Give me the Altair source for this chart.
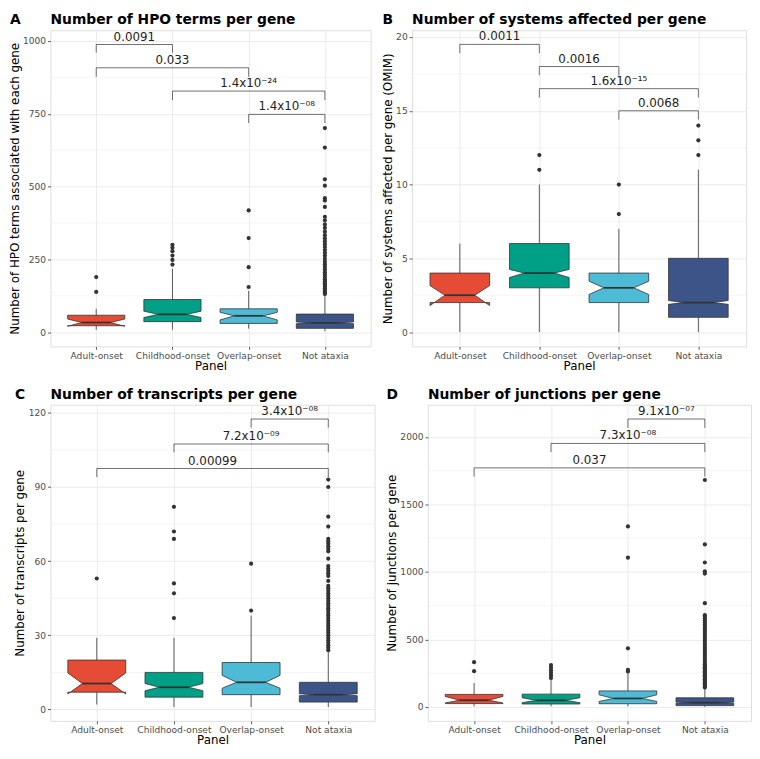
import json
import altair as alt
import pandas as pd

FONT = "DejaVu Sans"
CATS = ["Adult-onset", "Childhood-onset", "Overlap-onset", "Not ataxia"]
COLORS = ["#E64B35", "#00A087", "#4DBBD5", "#3C5488"]

# ---------------- Panel A: HPO terms ----------------
A_WLO = [8, 8, 12, 3]
A_Q1 = [22, 36, 30, 13]
A_NLO = [20, 50, 42, 29]
A_MED = [33, 61, 56, 32]
A_NHI = [45, 72, 68, 35]
A_Q3 = [58, 112, 80, 62]
A_WHI = [80, 218, 142, 127]
A_OUT_ADULT = [138, 189]
A_OUT_CHILD = [232, 248, 263, 278, 290, 300]
A_OUT_OVERLAP = [155, 223, 323, 418]
A_OUT_NOT = [131, 135, 140, 145, 150, 156, 162, 168, 175, 182, 190, 198, 206,
             215, 224, 233, 242, 252, 262, 272, 282, 292, 302, 312, 322, 333,
             345, 358, 370, 384, 396, 430, 452, 460, 503, 525, 634, 701]
A_BR_XA = [1, 1, 2, 3]
A_BR_XB = [2, 3, 4, 4]
A_BR_Y = [988, 908, 828, 748]
A_BR_TICK = [960, 877, 797, 718]
A_BR_LABEL = ["0.0091", "0.033", "1.4x10⁻²⁴", "1.4x10⁻⁰⁸"]

# ---------------- Panel B: systems affected ----------------
B_WLO = [0, 0, 0, 0]
B_Q1 = [2, 3, 2, 1]
B_NLO = [1.8, 3.7, 2.55, 1.88]
B_MED = [2.5, 4, 3, 2]
B_NHI = [3.15, 4.25, 3.45, 2.14]
B_Q3 = [4, 6, 4, 5]
B_WHI = [6, 10, 7, 11]
B_OUT_ADULT = []
B_OUT_CHILD = [11, 12]
B_OUT_OVERLAP = [8, 10]
B_OUT_NOT = [12, 13, 14]
B_BR_XA = [1, 2, 2, 3]
B_BR_XB = [2, 3, 4, 4]
B_BR_Y = [19.5, 18.0, 16.5, 15.0]
B_BR_TICK = [18.9, 17.4, 15.9, 14.4]
B_BR_LABEL = ["0.0011", "0.0016", "1.6x10⁻¹⁵", "0.0068"]

# ---------------- Panel C: transcripts ----------------
C_WLO = [2, 1, 1, 1]
C_Q1 = [7, 5, 6, 3]
C_NLO = [6.3, 7.6, 8.6, 5.6]
C_MED = [10.5, 9, 11, 6]
C_NHI = [14.8, 10.5, 13.8, 6.4]
C_Q3 = [20, 15, 19, 11]
C_WHI = [29, 29, 38, 23.5]
C_OUT_ADULT = [53]
C_OUT_CHILD = [37, 47, 51, 69, 72, 82]
C_OUT_OVERLAP = [40, 59]
C_OUT_NOT = [24, 25, 26, 27, 28, 29, 30, 31, 32, 33, 34, 35, 36, 37, 38, 39,
             40, 41, 42, 43, 44, 45, 46, 47, 48, 49, 50, 52, 54, 55, 56, 57,
             58, 61, 64, 65, 66, 67, 68, 69, 74, 78, 90, 93]
C_BR_XA = [3, 2, 1]
C_BR_XB = [4, 4, 4]
C_BR_Y = [117.5, 107.4, 97.5]
C_BR_TICK = [114, 104, 94]
C_BR_LABEL = ["3.4x10⁻⁰⁸", "7.2x10⁻⁰⁹", "0.00099"]

# ---------------- Panel D: junctions ----------------
D_WLO = [5, 5, 5, 0]
D_Q1 = [25, 22, 24, 10]
D_NLO = [30, 32, 41, 28]
D_MED = [50, 49, 63, 32]
D_NHI = [78, 68, 90, 36]
D_Q3 = [93, 95, 119, 68]
D_WHI = [177, 199, 245, 140]
D_OUT_ADULT = [265, 332]
D_OUT_CHILD = [214, 233, 252, 272, 291, 311]
D_OUT_OVERLAP = [262, 275, 434, 1106, 1337]
D_OUT_NOT = [145, 155, 165, 175, 185, 195, 205, 215, 225, 235, 245, 255, 265,
             275, 285, 295, 305, 315, 325, 340, 355, 370, 385, 400, 415, 430,
             445, 460, 475, 490, 505, 520, 535, 550, 565, 580, 595, 610, 625,
             640, 655, 670, 680, 769, 988, 1005, 1070, 1204, 1681]
D_BR_XA = [3, 2, 1]
D_BR_XB = [4, 4, 4]
D_BR_Y = [2133, 1952, 1771]
D_BR_TICK = [2067, 1887, 1706]
D_BR_LABEL = ["9.1x10⁻⁰⁷", "7.3x10⁻⁰⁸", "0.037"]

# styles
BOX_HALF = 0.375
NOTCH_HALF = 0.1875
DARK = "#333333"
PLOT_H = 320
# polygon walk of a notched box (ggplot order): (stat, side, half-width kind)
WALK = [("q3", -1, "b"), ("nhi", -1, "b"), ("med", -1, "n"), ("nlo", -1, "b"),
        ("q1", -1, "b"), ("q1", 1, "b"), ("nlo", 1, "b"), ("med", 1, "n"),
        ("nhi", 1, "b"), ("q3", 1, "b"), ("q3", -1, "b")]


def stats_df(wlo, q1, nlo, med, nhi, q3, whi):
    return pd.DataFrame({"cat": CATS, "pos": list(range(1, len(CATS) + 1)),
                         "wlo": wlo, "q1": q1, "nlo": nlo, "med": med,
                         "nhi": nhi, "q3": q3, "whi": whi})


def box_df(st):
    rows = []
    for _, r in st.iterrows():
        for o, (k, side, kind) in enumerate(WALK):
            h = BOX_HALF if kind == "b" else NOTCH_HALF
            rows.append({"cat": r["cat"], "o": o, "bx": r["pos"] + side * h, "by": r[k]})
    return pd.DataFrame(rows)


def out_df(outs):
    rows = []
    for i, (c, vals) in enumerate(zip(CATS, outs)):
        for v in vals:
            rows.append({"cat": c, "pos": i + 1, "v": v})
    return pd.DataFrame(rows, columns=["cat", "pos", "v"])


def br_df(xa, xb, y, tick, label):
    return pd.DataFrame({"xa": xa, "xb": xb, "y": y, "tick": tick, "label": label})


def panel(letter, title, ytitle, st, outs, br, ydom, yticks, yminor, width, ext, lx):
    xs = alt.Scale(domain=[0.4, 4.6], nice=False, zero=False)
    ys = alt.Scale(domain=ydom, nice=False, zero=False)
    label_expr = json.dumps(CATS) + "[datum.value - 1]"
    common = dict(grid=True, gridColor="#EBEBEB", gridWidth=1, domain=False,
                  ticks=True, tickColor=DARK, tickSize=3, tickWidth=0.8,
                  labelFont=FONT, labelFontSize=9.2, labelColor="#4D4D4D",
                  labelPadding=2, titleFont=FONT, titleFontSize=12,
                  titleFontWeight="normal", titleColor="#000000")
    xax = alt.Axis(values=[1, 2, 3, 4], labelExpr=label_expr, title="Panel",
                   labelFlush=False, labelOverlap=False, titlePadding=0, **common)
    yax = alt.Axis(values=yticks, title=ytitle, format="d", minExtent=ext,
                   maxExtent=ext, titlePadding=1, labelOverlap=False, **common)

    def X(f):
        return alt.X(f, type="quantitative", scale=xs, axis=xax)

    def Y(f):
        return alt.Y(f, type="quantitative", scale=ys, axis=yax)

    minor = alt.Chart(pd.DataFrame({"v": yminor})).mark_rule(
        color="#EBEBEB", strokeWidth=0.5).encode(y=Y("v"))
    wh_up = alt.Chart(st).mark_rule(color=DARK, strokeWidth=0.8).encode(
        x=X("pos"), y=Y("q3"), y2="whi:Q")
    wh_lo = alt.Chart(st).mark_rule(color=DARK, strokeWidth=0.8).encode(
        x=X("pos"), y=Y("wlo"), y2="q1:Q")
    box = alt.Chart(box_df(st)).mark_line(
        stroke=DARK, strokeWidth=0.8, interpolate="linear").encode(
        x=X("bx"), y=Y("by"), order="o:Q", detail="cat:N",
        fill=alt.Fill("cat:N", scale=alt.Scale(domain=CATS, range=COLORS), legend=None))
    medline = alt.Chart(st).transform_calculate(
        ml=f"datum.pos - {NOTCH_HALF}", mr=f"datum.pos + {NOTCH_HALF}"
    ).mark_rule(color=DARK, strokeWidth=1.8).encode(x=X("ml"), x2="mr:Q", y=Y("med"))
    layers = [minor, wh_up, wh_lo, box, medline]
    od = out_df(outs)
    if len(od):
        layers.append(alt.Chart(od).mark_circle(size=18, color=DARK, opacity=1).encode(
            x=X("pos"), y=Y("v")))
    brh = alt.Chart(br).mark_rule(color=DARK, strokeWidth=0.7).encode(
        x=X("xa"), x2="xb:Q", y=Y("y"))
    brl = alt.Chart(br).mark_rule(color=DARK, strokeWidth=0.7).encode(
        x=X("xa"), y=Y("tick"), y2="y:Q")
    brr = alt.Chart(br).mark_rule(color=DARK, strokeWidth=0.7).encode(
        x=X("xb"), y=Y("tick"), y2="y:Q")
    brt = alt.Chart(br).transform_calculate(xm="(datum.xa + datum.xb) / 2").mark_text(
        font=FONT, fontSize=12, baseline="bottom", dy=-1, color="#222222").encode(
        x=X("xm"), y=Y("y"), text="label:N")
    hdr = alt.Chart(pd.DataFrame({"t": [title]})).mark_text(
        font=FONT, fontSize=14, fontWeight="bold", align="left",
        baseline="top", color="#000000").encode(
        text="t:N", x=alt.value(0), y=alt.value(-17))
    let = alt.Chart(pd.DataFrame({"t": [letter]})).mark_text(
        font=FONT, fontSize=14, fontWeight="bold", align="left",
        baseline="top", color="#000000").encode(
        text="t:N", x=alt.value(-lx), y=alt.value(-17))
    layers += [brh, brl, brr, brt, hdr, let]
    return alt.layer(*layers).properties(width=width, height=PLOT_H)


pA = panel("A", "Number of HPO terms per gene",
           "Number of HPO terms associated with each gene",
           stats_df(A_WLO, A_Q1, A_NLO, A_MED, A_NHI, A_Q3, A_WHI),
           [A_OUT_ADULT, A_OUT_CHILD, A_OUT_OVERLAP, A_OUT_NOT],
           br_df(A_BR_XA, A_BR_XB, A_BR_Y, A_BR_TICK, A_BR_LABEL),
           [-49, 1037], [0, 250, 500, 750, 1000], [125, 375, 625, 875], 324, 28, 41)
pB = panel("B", "Number of systems affected per gene",
           "Number of systems affected per gene (OMIM)",
           stats_df(B_WLO, B_Q1, B_NLO, B_MED, B_NHI, B_Q3, B_WHI),
           [B_OUT_ADULT, B_OUT_CHILD, B_OUT_OVERLAP, B_OUT_NOT],
           br_df(B_BR_XA, B_BR_XB, B_BR_Y, B_BR_TICK, B_BR_LABEL),
           [-0.97, 20.46], [0, 5, 10, 15, 20], [2.5, 7.5, 12.5, 17.5], 338, 17, 30)
pC = panel("C", "Number of transcripts per gene",
           "Number of transcripts per gene",
           stats_df(C_WLO, C_Q1, C_NLO, C_MED, C_NHI, C_Q3, C_WHI),
           [C_OUT_ADULT, C_OUT_CHILD, C_OUT_OVERLAP, C_OUT_NOT],
           br_df(C_BR_XA, C_BR_XB, C_BR_Y, C_BR_TICK, C_BR_LABEL),
           [-4.6, 123.3], [0, 30, 60, 90, 120], [15, 45, 75, 105], 328, 23, 36)
pD = panel("D", "Number of junctions per gene",
           "Number of junctions per gene",
           stats_df(D_WLO, D_Q1, D_NLO, D_MED, D_NHI, D_Q3, D_WHI),
           [D_OUT_ADULT, D_OUT_CHILD, D_OUT_OVERLAP, D_OUT_NOT],
           br_df(D_BR_XA, D_BR_XB, D_BR_Y, D_BR_TICK, D_BR_LABEL),
           [-103, 2239], [0, 500, 1000, 1500, 2000], [250, 750, 1250, 1750], 327, 29, 42)

chart = alt.vconcat(
    alt.hconcat(pA, pB, spacing=9),
    alt.hconcat(pC, pD, spacing=9),
    spacing=15,
).properties(padding=0, background="white").configure_view(
    stroke=DARK, strokeWidth=0.8
).configure(font=FONT)

chart.save("out.html", embed_options={"renderer": "svg", "actions": False})
